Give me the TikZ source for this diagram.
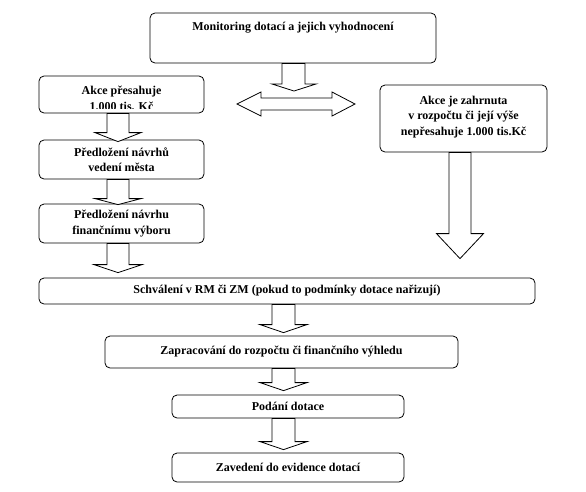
\documentclass[tikz,border=0pt]{standalone}
\usepackage{fontspec}
\setmainfont{Liberation Serif}
\usetikzlibrary{calc}
\tikzset{
  box/.style={draw, rounded corners=5pt, line width=0.8pt, inner sep=0pt},
  txt/.style={font=\bfseries\fontsize{12}{15.5}\selectfont, align=center, inner sep=0pt},
  barrow/.style={draw, fill=white, line width=0.8pt, line join=miter}
}
% #1 from node, #2 to node, #3 x centre, #4 head length, #5 tip offset, #6 shaft half width, #7 head half width
\newcommand\blockdown[7]{%
  \draw[barrow] let \p1=(#1.south), \p2=($(#2.north)+(0,#5)$) in
    (#3-#6,\y1) -- (#3-#6,\y2+#4pt) -- (#3-#7,\y2+#4pt) -- (#3,\y2)
    -- (#3+#7,\y2+#4pt) -- (#3+#6,\y2+#4pt) -- (#3+#6,\y1) -- cycle;}
\begin{document}
\begin{tikzpicture}[x=1pt,y=-1pt]
\useasboundingbox (0,0) rectangle (586,491);
% boxes
\node[box, minimum width=286pt, minimum height=50pt] (mon) at (293,38) {};
\node[txt, anchor=base] (montxt) at (293,30) {Monitoring dotací a jejich vyhodnocení};
\node[box, minimum width=165pt, minimum height=37pt] (akce) at (121.5,94.5) {};
\begin{scope}
  \clip (39,76) rectangle (204,108);
  \node[txt, anchor=base] (akcetxt1) at (121.5,94) {Akce přesahuje};
  \node[txt, anchor=base] (akcetxt2) at (121.5,110) {1.000 tis. Kč};
\end{scope}
\node[box, minimum width=165pt, minimum height=39pt] (pn1) at (121.5,159.5) {};
\node[box, minimum width=165pt, minimum height=39pt] (pn2) at (121.5,223.5) {};
\node[box, minimum width=167pt, minimum height=67pt] (right) at (463.5,118.5) {};
\node[box, minimum width=496pt, minimum height=26pt] (schv) at (287,291) {};
\node[box, minimum width=353pt, minimum height=32pt] (zap) at (281.5,352) {};
\node[box, minimum width=232pt, minimum height=23pt] (pod) at (288,406.5) {};
\node[box, minimum width=232pt, minimum height=29pt] (zav) at (288,467.5) {};
% texts
\node[txt] (pn1txt) at (pn1) {Předložení návrhů\\vedení města};
\node[txt] (pn2txt) at (pn2) {Předložení návrhu\\finančnímu výboru};
\node[txt] (righttxt) at (463.5,117) {Akce je zahrnuta\\v rozpočtu či její výše\\nepřesahuje 1.000 tis.Kč};
\node[txt] (schvtxt) at (schv) {Schválení v RM či ZM (pokud to podmínky dotace nařizují)};
\node[txt] (zaptxt) at (zap) {Zapracování do rozpočtu či finančního výhledu};
\node[txt] (podtxt) at (pod) {Podání dotace};
\node[txt] (zavtxt) at (zav) {Zavedení do evidence dotací};
% block arrows
\coordinate (montip) at (294,91);
\draw[barrow] let \p1=(mon.south), \p2=(montip) in
  (282,\y1) -- (282,\y2+7pt) -- (272,\y2+7pt) -- (294,\y2) -- (316,\y2+7pt) -- (305,\y2+7pt) -- (305,\y1) -- cycle;
\draw[barrow] (237,104) -- (261,92) -- (261,98) -- (332,98) -- (332,92) -- (355,104)
  -- (332,116) -- (332,110) -- (261,110) -- (261,116) -- cycle;
\blockdown{akce}{pn1}{118}{9}{2}{11}{23}
\blockdown{pn1}{pn2}{118}{6}{1}{11}{23}
\blockdown{pn2}{schv}{118}{8}{-5}{11}{24}
\blockdown{right}{schv}{460}{25}{-19}{11}{23.5}
\blockdown{schv}{zap}{283.5}{8}{-3}{11.5}{23.5}
\blockdown{zap}{pod}{283.5}{8}{-4}{11.5}{23.5}
\blockdown{pod}{zav}{283.5}{8}{-3}{11.5}{23.5}
\end{tikzpicture}
\end{document}
